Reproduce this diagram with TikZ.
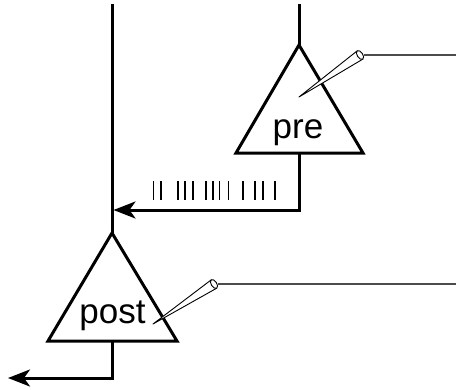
\documentclass[tikz,border=0pt]{standalone}
\usepackage{fontspec}
\setmainfont{Liberation Sans}
\usetikzlibrary{arrows.meta,calc}
\begin{document}
\begin{tikzpicture}[x=1pt,y=-1pt,
  neuron/.style={line width=3pt, line join=miter, fill=white},
  axon/.style={line width=3pt},
  spiketick/.style={line width=1.6pt},
  wire/.style={line width=1.3pt, draw=black!70},
  needle/.style={line width=0.9pt, fill=white, line join=round},
  lbl/.style={font=\fontsize{35}{40}\selectfont, inner sep=0pt, anchor=base},
  tipped/.style={-{Stealth[length=22pt,width=17pt,inset=6pt]}}
]
\useasboundingbox (0,0) rectangle (456,389);

% key points
\coordinate (preTop)  at (299,4);
\coordinate (preA)    at (299,45);
\coordinate (preL)    at (236,153);
\coordinate (preR)    at (363,153);
\coordinate (preB)    at (299,153);
\coordinate (preBend) at (299,210);
\coordinate (join)    at (113.5,210);

\coordinate (postTop)  at (112,4);
\coordinate (postA)    at (112,233);
\coordinate (postL)    at (48,341);
\coordinate (postR)    at (177,341);
\coordinate (postB)    at (112,341);
\coordinate (postBend) at (112,378);
\coordinate (outEnd)   at (8,378);

% axons
\draw[axon] (preTop) -- (preA);
\draw[axon] (postTop) -- (postA);
\draw[axon,tipped] (preB) -- (preBend) -- (join);
\draw[axon,tipped] (postB) -- (postBend) -- (outEnd);

% spike train
\foreach \x in {153.3,161,177.7,185,192.7,206,212.7,219.3,228.3,242.7,255,262.7,275}
  \draw[spiketick] (\x,181) -- (\x,200);

% cell bodies
\draw[neuron] (preA) -- (preL) -- (preR) -- cycle;
\draw[neuron] (postA) -- (postL) -- (postR) -- cycle;
\node[lbl] (pre)  at (298,138) {pre};
\node[lbl] (post) at (112.5,323) {post};

% recording electrode on the presynaptic cell
\coordinate (eAtip)  at (299,97);
\coordinate (eAend)  at (360,55);
\coordinate (eAwire) at (364,55);
\coordinate (eAfar)  at (456,55);
\draw[needle] (eAtip) -- ($(eAend)!5pt!90:(eAtip)$) -- ($(eAend)!5pt!-90:(eAtip)$) -- cycle;
\draw[needle] (eAend) ellipse[x radius=2.8pt, y radius=5pt, rotate=34];
\draw[wire] (eAwire) -- (eAfar);

% recording electrode on the postsynaptic cell
\coordinate (eBtip)  at (153,324);
\coordinate (eBend)  at (214,284);
\coordinate (eBwire) at (218,284);
\coordinate (eBfar)  at (456,284);
\draw[needle] (eBtip) -- ($(eBend)!5pt!90:(eBtip)$) -- ($(eBend)!5pt!-90:(eBtip)$) -- cycle;
\draw[needle] (eBend) ellipse[x radius=2.8pt, y radius=5pt, rotate=33];
\draw[wire] (eBwire) -- (eBfar);
\end{tikzpicture}
\end{document}
